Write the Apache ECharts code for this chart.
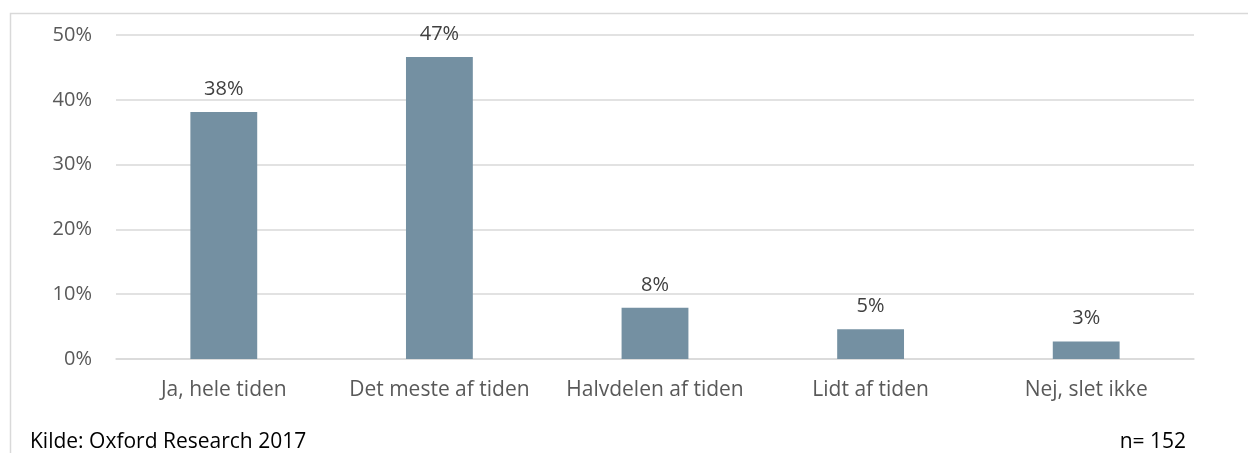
<!DOCTYPE html>
<html>
<head>
<meta charset="utf-8">
<script src="https://cdn.jsdelivr.net/npm/echarts@6/dist/echarts.min.js"></script>
<style>
  html, body { margin: 0; padding: 0; background: #fff; }
  #chart { width: 1248px; height: 453px; }
</style>
</head>
<body>
<div id="chart"></div>
<script>
const categories = ['Ja, hele tiden', 'Det meste af tiden', 'Halvdelen af tiden', 'Lidt af tiden', 'Nej, slet ikke']
const values = [38.1, 46.6, 7.9, 4.6, 2.7]
const labels = ['38%', '47%', '8%', '5%', '3%']
const yTicks = [0, 10, 20, 30, 40, 50]

const font = '"Open Sans", Lato, sans-serif'
const chart = echarts.init(document.getElementById('chart'))

chart.setOption({
    animation: false,
    textStyle: { fontFamily: font },
    grid: { left: 116, right: 54, top: 35, bottom: 94 },
    xAxis: {
        type: 'category',
        data: categories,
        axisLine: { lineStyle: { color: '#d9d9d9', width: 1.5 } },
        axisTick: { show: false },
        axisLabel: { color: '#595959', fontSize: 21, margin: 21, interval: 0, fontFamily: font }
    },
    yAxis: {
        type: 'value',
        min: 0,
        max: 50,
        interval: 10,
        axisLine: { show: false },
        axisTick: { show: false },
        splitLine: { lineStyle: { color: '#d9d9d9', width: 1.5 } },
        axisLabel: {
            color: '#595959',
            fontSize: 20,
            margin: 24,
            fontFamily: font,
            formatter: v => yTicks.includes(v) ? v + '%' : ''
        }
    },
    series: [{
        type: 'bar',
        data: values,
        barWidth: '31%',
        itemStyle: { color: '#7490a2' },
        label: {
            show: true,
            position: 'top',
            distance: 13,
            color: '#404040',
            fontSize: 20,
            fontFamily: font,
            formatter: p => labels[p.dataIndex]
        }
    }],
    graphic: [
        {
            type: 'rect',
            shape: { x: 10.5, y: 13.5, width: 1260, height: 470 },
            style: { fill: 'none', stroke: '#d9d9d9', lineWidth: 1.5 },
            silent: true
        },
        {
            type: 'text',
            left: 30,
            top: 432,
            style: { text: 'Kilde: Oxford Research 2017', fill: '#000', fontSize: 21, fontFamily: font }
        },
        {
            type: 'text',
            right: 62,
            top: 432,
            style: { text: 'n= 152', fill: '#000', fontSize: 21, fontFamily: font }
        }
    ]
})
</script>
</body>
</html>
